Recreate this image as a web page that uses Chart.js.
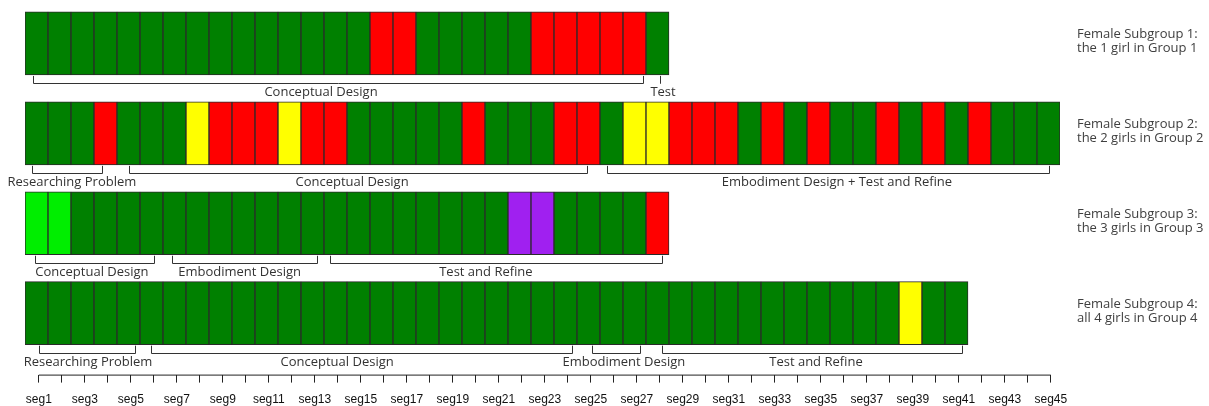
<!DOCTYPE html>
<html>
<head>
<meta charset="utf-8">
<script src="https://cdn.jsdelivr.net/npm/chart.js@4"></script>
<style>
  body { margin: 0; background: #fff; }
  #wrap { width: 1209px; height: 406px; position: relative; }
</style>
</head>
<body>
<div id="wrap"><canvas id="segChart"></canvas></div>
<script>
// one letter per segment: G green, R red, Y yellow, L light green, P purple
const rowCodes = [
  'GGGGGGGGGGGGGGGRRGGGGGRRRRRG',
  'GGGRGGGYRRRYRRGGGGGRGGGRRGYYRRRGRGRGGRGRGRGGG',
  'LLGGGGGGGGGGGGGGGGGGGPPGGGGR',
  'GGGGGGGGGGGGGGGGGGGGGGGGGGGGGGGGGGGGGGYGG'
];
const colourOf = { G: '#008000', R: '#ff0000', Y: '#ffff00', L: '#00ee00', P: '#a020f0' };

const rowNames = [
  ['Female Subgroup 1:', 'the 1 girl in Group 1'],
  ['Female Subgroup 2:', 'the 2 girls in Group 2'],
  ['Female Subgroup 3:', 'the 3 girls in Group 3'],
  ['Female Subgroup 4:', 'all 4 girls in Group 4']
];

const segLabels = ['seg1','seg2','seg3','seg4','seg5','seg6','seg7','seg8','seg9','seg10',
  'seg11','seg12','seg13','seg14','seg15','seg16','seg17','seg18','seg19','seg20',
  'seg21','seg22','seg23','seg24','seg25','seg26','seg27','seg28','seg29','seg30',
  'seg31','seg32','seg33','seg34','seg35','seg36','seg37','seg38','seg39','seg40',
  'seg41','seg42','seg43','seg44','seg45'];

// design phases under each row: [from, to, label, label centre] in segment units
const phases = [
  [[0.35, 26.87, 'Conceptual Design', 12.87], [27.6, 27.6, 'Test', 27.74]],
  [[0.3, 3.35, 'Researching Problem', 2.04], [4.52, 24.43, 'Conceptual Design', 14.22],
   [25.3, 44.52, 'Embodiment Design + Test and Refine', 35.3]],
  [[0.43, 5.6, 'Conceptual Design', 2.91], [6.39, 12.7, 'Embodiment Design', 9.33],
   [13.26, 27.7, 'Test and Refine', 20.04]],
  [[0.61, 4.78, 'Researching Problem', 2.74], [5.48, 23.78, 'Conceptual Design', 13.57],
   [24.65, 26.74, 'Embodiment Design', 26.04], [27.7, 40.74, 'Test and Refine', 34.39]]
];

const BAR = 63;
const TICK_SHIFT = 0.6;

const points = [];
const colours = [];
rowCodes.forEach((codes, r) => {
  codes.split('').forEach((c, i) => {
    points.push({ y: r + 1, x: [i, i + 1] });
    colours.push(colourOf[c]);
  });
});

const annotate = {
  id: 'annotate',
  afterDatasetsDraw(chart) {
    const { ctx, chartArea, scales: { x, y } } = chart;
    ctx.save();
    ctx.strokeStyle = '#333';
    ctx.lineWidth = 1;
    ctx.fillStyle = '#333';
    ctx.font = '13px "Open Sans"';
    ctx.textAlign = 'center';
    ctx.textBaseline = 'middle';
    phases.forEach((list, r) => {
      const bottom = y.getPixelForValue(r + 1) + BAR / 2;
      const ly = Math.round(bottom + 8) + 0.5;
      list.forEach(([a, b, text, at]) => {
        const xa = Math.round(x.getPixelForValue(a)) + 0.5;
        const xb = Math.round(x.getPixelForValue(b)) + 0.5;
        ctx.beginPath();
        ctx.moveTo(xa, bottom + 1);
        ctx.lineTo(xa, ly);
        ctx.lineTo(xb, ly);
        ctx.lineTo(xb, bottom + 1);
        ctx.stroke();
        ctx.fillText(text, x.getPixelForValue(at), ly + 8.5);
      });
    });

    // subgroup names on the right
    ctx.fillStyle = '#404040';
    ctx.textAlign = 'left';
    rowNames.forEach((lines, r) => {
      const cy = y.getPixelForValue(r + 1);
      ctx.fillText(lines[0], chartArea.right + 17, cy - 9);
      ctx.fillText(lines[1], chartArea.right + 17, cy + 5);
    });

    // axis line only between first and last tick
    const x0 = x.getPixelForValue(TICK_SHIFT);
    const x1 = x.getPixelForValue(segLabels.length - 1 + TICK_SHIFT);
    ctx.strokeStyle = '#222';
    ctx.beginPath();
    ctx.moveTo(x0, chartArea.bottom + 0.5);
    ctx.lineTo(x1, chartArea.bottom + 0.5);
    ctx.stroke();
    ctx.restore();
  }
};

new Chart(document.getElementById('segChart'), {
  type: 'bar',
  data: {
    datasets: [{
      data: points,
      backgroundColor: colours,
      borderColor: '#2a2a2a',
      borderWidth: 1,
      borderSkipped: false,
      barThickness: BAR
    }]
  },
  options: {
    indexAxis: 'y',
    responsive: true,
    maintainAspectRatio: false,
    animation: false,
    layout: { padding: { left: 25, right: 149, top: 0, bottom: -11 } },
    plugins: { legend: { display: false }, tooltip: { enabled: false } },
    scales: {
      x: {
        type: 'linear',
        min: 0,
        max: 45,
        afterBuildTicks: scale => {
          scale.ticks = segLabels.map((_, i) => ({ value: i + TICK_SHIFT }));
        },
        grid: { drawOnChartArea: false, drawTicks: true, tickLength: 8, color: '#222' },
        border: { display: false },
        ticks: {
          autoSkip: false,
          maxRotation: 0,
          padding: 10,
          color: '#111',
          font: { family: '"Liberation Sans"', size: 12 },
          callback: (value, index) => index % 2 === 0 ? segLabels[index] : ''
        }
      },
      y: {
        type: 'linear',
        reverse: true,
        offset: false,
        min: 0.5167,
        max: 4.6833,
        display: false
      }
    }
  },
  plugins: [annotate]
});
</script>
</body>
</html>
